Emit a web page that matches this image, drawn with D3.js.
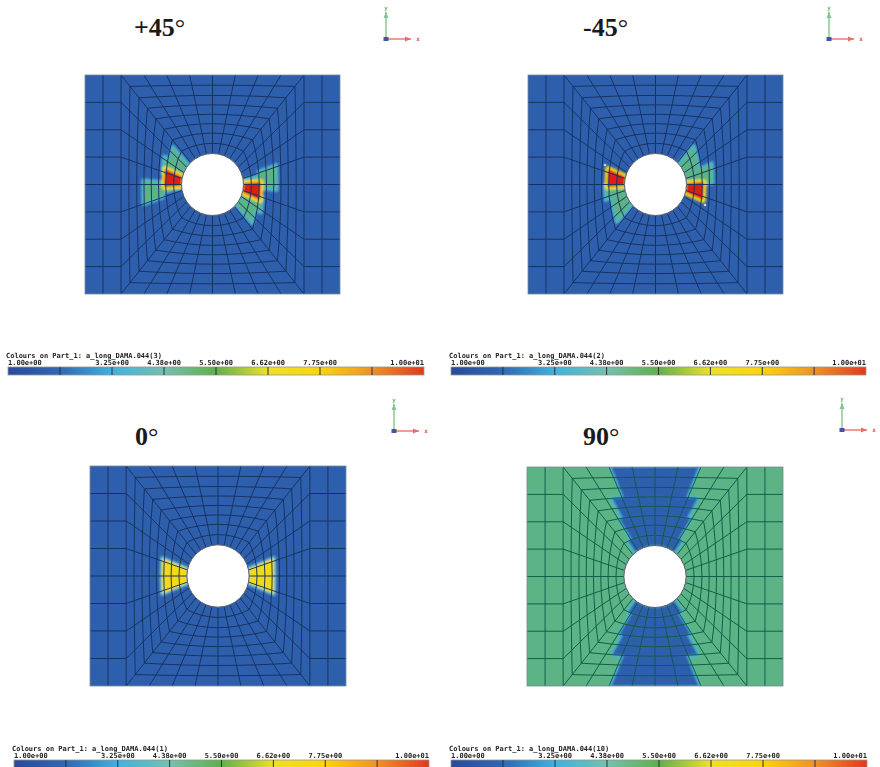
<!DOCTYPE html>
<html>
<head>
<meta charset="utf-8">
<script src="https://cdnjs.cloudflare.com/ajax/libs/d3/7.8.5/d3.min.js"></script>
<style>
html, body { margin: 0; padding: 0; background: #fff; }
svg { display: block; }
</style>
</head>
<body>
<div id="chart"></div>
<script>
// data ****************************************
var plyAngles = ["+45", "-45", "0", "90"];
var legendIds = ["3", "2", "1", "10"];

// plate mesh, in plate units (255 x 219, hole radius 31)
var columnLines = [0, 18, 36, 219, 237, 255];
var rowLines = [0, 27.4, 54.8, 82.1, 109.5, 136.9, 164.2, 191.6, 219];
var ringFractions = [0, 0.13, 0.26, 0.38, 0.5, 0.62, 0.74, 0.87, 1];
var spokeCount = 32;
var holeRadius = 31;

// damage patches: [spoke from, spoke to, ring from, ring to, level]
var patches45p = [
    [27, 28.2, 2.9, 5.6, 2], [27.4, 28.2, 5.4, 8, 2], [29, 31.5, 6.2, 8, 2], [28.9, 30.2, 5.5, 6.6, 2],
    [10.9, 12.3, 3.6, 6, 2], [11.3, 12, 5.6, 8, 2], [13.6, 15.6, 6.2, 8, 2], [13, 14.2, 5.5, 6.6, 2],
    [27.8, 29.3, 5.8, 8, 5], [11.8, 13.3, 5.8, 8, 5]
];
var patches45m = [
    [26.8, 28, 5.5, 8, 2], [24.4, 27, 6.3, 8, 2],
    [10.6, 11.9, 4.6, 6.5, 2], [8.3, 10.8, 6.3, 8, 2], [10.8, 12, 5.6, 8, 2],
    [27.8, 29.3, 5.8, 8, 5], [11.8, 13.3, 5.8, 8, 5]
];
var patches0 = [
    [26.8, 29.2, 4.7, 8, 3], [10.8, 13.2, 4.7, 8, 3]
];
var patches90 = [
    [2.1, 5.9, 0, 3, 0], [1.4, 6.6, 3, 5, 0], [1.1, 6.9, 5, 7, 0], [0.6, 7.4, 7, 8, 0],
    [18.1, 21.9, 0, 3, 0], [17.4, 22.6, 3, 5, 0], [17.1, 22.9, 5, 7, 0], [16.6, 23.4, 7, 8, 0]
];
var panelPatches = [patches45p, patches45m, patches0, patches90];
var panelBaseLevel = [0, 0, 0, 2];

// small light marks seen on the -45 panel
var markerPoints = [[77, 90], [177, 130]];

// colour legend
var legendStops = [1, 2.125, 3.25, 4.375, 5.5, 6.625, 7.75, 8.875, 10];
var legendStopColours = ["#2a4a9c", "#2f68b2", "#3fb2de", "#74c0b0", "#5fb04c", "#ece12a", "#fbd40e", "#ee9228", "#e03a1e"];
var legendLabels = ["1.00e+00", "", "3.25e+00", "4.38e+00", "5.50e+00", "6.62e+00", "7.75e+00", "", "1.00e+01"];

// layout
var W = 880, H = 767;
var plateX = [[85, 340], [528, 783], [90, 346], [527, 783]];
var plateY = [[75, 294], [75, 294], [466, 686], [467, 686]];
var titleX = [134, 583, 135, 583];
var titleY = [36, 36, 445, 445];
var legendX = [[8, 424], [451, 866], [14, 429], [451, 867]];
var legendY = [367, 367, 760, 760];
var triadX = [386, 829, 394, 842];
var triadY = [39, 39, 431, 430];

var levelColour = d3.scaleOrdinal()
    .domain([0, 1, 2, 3, 4, 5])
    .range(["#2f5fac", "#4cb7de", "#5cb486", "#f1da12", "#ee8a20", "#dd1f18"]);
var fringeColour = d3.scaleOrdinal()
    .domain([0, 2, 3, 5])
    .range(["#4cb7de", "#4cb7de", "#4cb7de", "#f5e01c"]);

var svg = d3.select("#chart").append("svg")
    .attr("width", W)
    .attr("height", H);

var defs = svg.append("defs");
defs.append("filter").attr("id", "soft")
    .attr("x", "-5%").attr("y", "-5%").attr("width", "110%").attr("height", "110%")
    .append("feGaussianBlur").attr("stdDeviation", 0.45);
defs.append("filter").attr("id", "softText")
    .attr("x", "-5%").attr("y", "-50%").attr("width", "110%").attr("height", "200%")
    .append("feGaussianBlur").attr("stdDeviation", 0.45);
defs.append("filter").attr("id", "patchBlur")
    .attr("filterUnits", "userSpaceOnUse")
    .attr("x", 0).attr("y", 0).attr("width", W).attr("height", H)
    .append("feGaussianBlur").attr("stdDeviation", 0.9);
defs.append("filter").attr("id", "triadBlur")
    .attr("filterUnits", "userSpaceOnUse")
    .attr("x", 0).attr("y", 0).attr("width", W).attr("height", H)
    .append("feGaussianBlur").attr("stdDeviation", 0.7);

var gradient = defs.append("linearGradient").attr("id", "legendRamp");
legendStops.forEach(function (v, i) {
    gradient.append("stop")
        .attr("offset", ((v - 1) / 9 * 100) + "%")
        .attr("stop-color", legendStopColours[i]);
});

// perimeter of the inner block, clockwise from the top left corner
function perimeterPoint(k) {
    var a = columnLines[2], b = columnLines[3];
    var top = rowLines[0], bottom = rowLines[8];
    k = ((k % spokeCount) + spokeCount) % spokeCount;
    var f = (k % 8) / 8;
    if (k < 8) return [a + (b - a) * f, top];
    if (k < 16) return [b, top + (bottom - top) * f];
    if (k < 24) return [b - (b - a) * f, bottom];
    return [a, bottom - (bottom - top) * f];
}

function holePoint(k) {
    var cx = (columnLines[0] + columnLines[5]) / 2, cy = (rowLines[0] + rowLines[8]) / 2;
    var angle = (k - 4) * 2 * Math.PI / spokeCount;
    return [cx + holeRadius * Math.sin(angle), cy - holeRadius * Math.cos(angle)];
}

function meshPoint(k, ring) {
    var low = Math.min(Math.floor(ring), ringFractions.length - 2);
    var t = ringFractions[low] + (ringFractions[low + 1] - ringFractions[low]) * (ring - low);
    var p = perimeterPoint(k), h = holePoint(k);
    return [p[0] + (h[0] - p[0]) * t, p[1] + (h[1] - p[1]) * t];
}

function patchOutline(p) {
    var ks = [p[0]], out = [], i;
    for (i = Math.ceil(p[0]); i < p[1]; i++) { if (i > p[0]) ks.push(i); }
    ks.push(p[1]);
    ks.forEach(function (k) { out.push(meshPoint(k, p[2])); });
    ks.slice().reverse().forEach(function (k) { out.push(meshPoint(k, p[3])); });
    return out;
}

plyAngles.forEach(function (angle, idx) {
    var x = d3.scaleLinear().domain([columnLines[0], columnLines[5]]).range(plateX[idx]);
    var y = d3.scaleLinear().domain([rowLines[0], rowLines[8]]).range(plateY[idx]);
    var line = d3.line().x(function (d) { return x(d[0]); }).y(function (d) { return y(d[1]); });
    var base = panelBaseLevel[idx];
    var meshColour = base == 2 ? "#0f5a46" : "#17305f";

    var panel = svg.append("g").attr("class", "panel");
    var plate = panel.append("g").attr("filter", "url(#soft)");

    defs.append("clipPath").attr("id", "plateClip" + idx)
        .append("rect")
        .attr("x", x(0)).attr("y", y(0))
        .attr("width", x(255) - x(0)).attr("height", y(219) - y(0));

    plate.append("rect")
        .attr("x", x(0)).attr("y", y(0))
        .attr("width", x(255) - x(0)).attr("height", y(219) - y(0))
        .attr("fill", levelColour(base));

    // contour patches, level by level: fringes first, then the fills
    var patchLayer = plate.append("g").attr("clip-path", "url(#plateClip" + idx + ")")
        .append("g").attr("filter", "url(#patchBlur)");
    var byLevel = d3.groups(panelPatches[idx], function (d) { return d[4]; })
        .sort(function (a, b) { return a[0] - b[0]; });
    byLevel.forEach(function (group) {
        var level = group[0];
        patchLayer.selectAll("path.fringe" + level)
            .data(group[1])
            .enter().append("path")
            .attr("class", "fringe" + level)
            .attr("d", function (d) { return line(patchOutline(d)) + "Z"; })
            .attr("fill", fringeColour(level))
            .attr("stroke", fringeColour(level))
            .attr("stroke-width", level == 5 ? 5.5 : 4)
            .attr("stroke-linejoin", "round");
        patchLayer.selectAll("path.core" + level)
            .data(group[1])
            .enter().append("path")
            .attr("class", "core" + level)
            .attr("d", function (d) { return line(patchOutline(d)) + "Z"; })
            .attr("fill", levelColour(level));
    });

    // mesh: outer columns and rows
    var mesh = plate.append("g")
        .attr("fill", "none")
        .attr("stroke", meshColour)
        .attr("stroke-width", 0.95);

    [1, 2, 3, 4].forEach(function (c) {
        mesh.append("path").attr("d", line([[columnLines[c], rowLines[0]], [columnLines[c], rowLines[8]]]));
    });
    rowLines.slice(1, 8).forEach(function (r) {
        mesh.append("path").attr("d", line([[columnLines[0], r], [columnLines[2], r]]));
        mesh.append("path").attr("d", line([[columnLines[3], r], [columnLines[5], r]]));
    });

    // mesh: rings and spokes of the inner block
    ringFractions.slice(1, 8).forEach(function (f, r) {
        var pts = d3.range(spokeCount).map(function (k) { return meshPoint(k, r + 1); });
        mesh.append("path").attr("d", line(pts) + "Z");
    });
    d3.range(spokeCount).forEach(function (k) {
        mesh.append("path").attr("d", line([meshPoint(k, 0), meshPoint(k, 8)]));
    });

    // hole and plate outline
    plate.append("ellipse")
        .attr("cx", x(127.5)).attr("cy", y(109.5))
        .attr("rx", x(holeRadius) - x(0)).attr("ry", y(holeRadius) - y(0))
        .attr("fill", "#fff")
        .attr("stroke", "#5a5a68")
        .attr("stroke-width", 1);
    plate.append("rect")
        .attr("x", x(0)).attr("y", y(0))
        .attr("width", x(255) - x(0)).attr("height", y(219) - y(0))
        .attr("fill", "none")
        .attr("stroke", "#7d8894")
        .attr("stroke-width", 0.8);

    if (idx == 1) {
        plate.selectAll("circle.marker")
            .data(markerPoints)
            .enter().append("circle")
            .attr("class", "marker")
            .attr("cx", function (d) { return x(d[0]); })
            .attr("cy", function (d) { return y(d[1]); })
            .attr("r", 1.3)
            .attr("fill", "#c9d6ea");
    }

    // title
    var title = panel.append("text")
        .attr("x", titleX[idx])
        .attr("y", titleY[idx])
        .attr("fill", "#1a1a1a")
        .style("font-family", "'Liberation Serif', serif")
        .style("font-size", "26px");
    title.append("tspan").style("font-weight", "bold").text(angle);
    title.append("tspan").text("\u00b0");

    // colour legend
    var lx = d3.scaleLinear().domain([1, 10]).range(legendX[idx]);
    var ly = legendY[idx];
    var legend = panel.append("g").attr("filter", "url(#softText)");

    legend.append("rect")
        .attr("x", lx(1)).attr("y", ly)
        .attr("width", lx(10) - lx(1)).attr("height", 8)
        .attr("fill", "url(#legendRamp)")
        .attr("stroke", "#9a9488")
        .attr("stroke-width", 0.8);
    legend.selectAll("line.tick")
        .data(legendStops.slice(1, 8))
        .enter().append("line")
        .attr("x1", lx).attr("x2", lx)
        .attr("y1", ly).attr("y2", ly + 8)
        .attr("stroke", "#2a3040")
        .attr("stroke-width", 1);
    legend.selectAll("text.lab")
        .data(legendLabels)
        .enter().append("text")
        .attr("x", function (d, i) { return lx(legendStops[i]); })
        .attr("y", ly - 2)
        .attr("text-anchor", function (d, i) { return i == 0 ? "start" : (i == 8 ? "end" : "middle"); })
        .attr("fill", "#222")
        .style("font-family", "'DejaVu Sans Mono', monospace")
        .style("font-weight", "bold")
        .style("font-size", "7px")
        .text(function (d) { return d; });
    legend.append("text")
        .attr("x", lx(1) - 2)
        .attr("y", ly - 9)
        .attr("fill", "#222")
        .style("font-family", "'DejaVu Sans Mono', monospace")
        .style("font-weight", "bold")
        .style("font-size", "7px")
        .text("Colours on Part_1: a_long_DAMA.044(" + legendIds[idx] + ")");

    // axis triad
    var tx = triadX[idx], ty = triadY[idx];
    var triad = panel.append("g").attr("filter", "url(#triadBlur)");
    triad.append("line").attr("x1", tx).attr("y1", ty).attr("x2", tx).attr("y2", ty - 27)
        .attr("stroke", "#84c490").attr("stroke-width", 1.4);
    triad.append("path").attr("d", d3.line()([[tx - 2.5, ty - 21], [tx, ty - 27], [tx + 2.5, ty - 21]]))
        .attr("fill", "#84c490");
    triad.append("line").attr("x1", tx).attr("y1", ty).attr("x2", tx + 25).attr("y2", ty)
        .attr("stroke", "#e8706a").attr("stroke-width", 1.4);
    triad.append("path").attr("d", d3.line()([[tx + 19, ty - 2.5], [tx + 25, ty], [tx + 19, ty + 2.5]]))
        .attr("fill", "#e8706a");
    triad.append("rect").attr("x", tx - 2.5).attr("y", ty - 2).attr("width", 5).attr("height", 4)
        .attr("fill", "#44559f");
    triad.append("text").attr("x", tx).attr("y", ty - 29)
        .attr("text-anchor", "middle").attr("fill", "#6cb67c")
        .style("font-family", "'DejaVu Sans Mono', monospace").style("font-size", "6px").style("font-weight", "bold")
        .text("y");
    triad.append("text").attr("x", tx + 32).attr("y", ty + 2)
        .attr("text-anchor", "middle").attr("fill", "#d9534f")
        .style("font-family", "'DejaVu Sans Mono', monospace").style("font-size", "6px").style("font-weight", "bold")
        .text("x");
});
</script>
</body>
</html>
